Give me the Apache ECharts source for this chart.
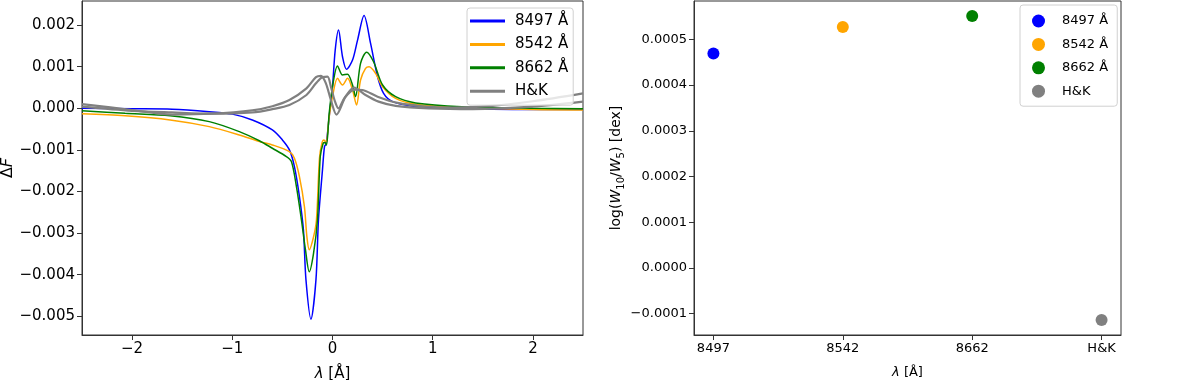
<!DOCTYPE html>
<html>
<head>
<meta charset="utf-8">
<script src="https://cdn.jsdelivr.net/npm/echarts@6.0.0/dist/echarts.min.js"></script>
<style>
  html, body { margin: 0; padding: 0; background: #fff; }
  #chart { width: 1200px; height: 380px; }
</style>
</head>
<body>
<div id="chart"></div>
<script>
// ── data: ΔF profiles, [λ offset (Å), ΔF] ──
const blue8497 = [[-2.5, 0.0], [-2.0, -0.00001], [-1.6, -0.00002], [-1.23, -0.00008], [-1.0, -0.00014], [-0.8, -0.00028],
  [-0.6, -0.00052], [-0.5, -0.00076], [-0.43, -0.001], [-0.38, -0.0014], [-0.33, -0.00212], [-0.29, -0.00293],
  [-0.265, -0.00412], [-0.215, -0.00507], [-0.165, -0.00412], [-0.14, -0.00268], [-0.1, -0.00148], [-0.08, -0.00092],
  [-0.065, -0.00086], [-0.05, -0.0006], [-0.033, -0.0002], [0.0, 0.00052], [0.027, 0.0014], [0.06, 0.00188],
  [0.1, 0.00124], [0.14, 0.00094], [0.2, 0.00116], [0.25, 0.00164], [0.315, 0.00223], [0.38, 0.00156], [0.45, 0.00076],
  [0.51, 0.00036], [0.6, 0.00016], [0.79, 0.000055], [1.13, 0.0], [1.6, -0.00002], [2.0, -0.00003], [2.5, -0.00003]];
const orange8542 = [[-2.5, -0.00013], [-2.07, -0.00018], [-1.62, -0.00028], [-1.23, -0.00044], [-0.93, -0.00064],
  [-0.73, -0.0008], [-0.6, -0.00088], [-0.43, -0.00104], [-0.38, -0.0012], [-0.33, -0.00164], [-0.28, -0.00237],
  [-0.255, -0.0031], [-0.232, -0.0034], [-0.19, -0.0031], [-0.16, -0.00268], [-0.13, -0.0012], [-0.105, -0.00083],
  [-0.085, -0.00076], [-0.065, -0.00082], [-0.033, -0.0002], [0.0, 0.00028], [0.05, 0.00072], [0.1, 0.00056],
  [0.15, 0.00072], [0.2, 0.00044], [0.24, 0.00008], [0.28, 0.00068], [0.33, 0.00096], [0.365, 0.001], [0.43, 0.00084],
  [0.5, 0.00052], [0.63, 0.00024], [0.83, 0.0001], [1.29, 0.00002], [2.0, -0.00003], [2.5, -0.00004]];
const green8662 = [[-2.5, -0.00006], [-2.07, -0.00012], [-1.62, -0.00018], [-1.23, -0.00032], [-0.93, -0.00056],
  [-0.73, -0.00078], [-0.6, -0.00096], [-0.46, -0.00116], [-0.41, -0.00128], [-0.36, -0.00188], [-0.31, -0.00268],
  [-0.27, -0.0034], [-0.232, -0.00393], [-0.19, -0.0035], [-0.15, -0.00268], [-0.122, -0.00116], [-0.093, -0.00084],
  [-0.075, -0.00082], [-0.06, -0.00088], [-0.033, -0.00012], [0.0, 0.00052], [0.05, 0.00102], [0.1, 0.0008],
  [0.15, 0.00082], [0.2, 0.00056], [0.23, 0.00028], [0.28, 0.00108], [0.34, 0.00135], [0.41, 0.00112], [0.5, 0.00056],
  [0.63, 0.00028], [0.83, 0.00013], [1.29, 0.00004], [2.0, 0.0], [2.5, -0.00001]];
const grayH = [[-2.5, 0.0001], [-2.0, -0.00004], [-1.6, -0.00015], [-1.2, -0.00013], [-0.8, -0.00005], [-0.6, 0.00005],
  [-0.43, 0.0002], [-0.26, 0.00048], [-0.165, 0.00075], [-0.115, 0.00078], [-0.066, 0.0006], [-0.016, 0.0002],
  [0.04, -0.00015], [0.13, 0.00028], [0.215, 0.0005], [0.33, 0.00032], [0.46, 0.00016], [0.63, 0.00006],
  [0.96, 0.0], [1.4, -0.00002], [2.0, 0.00004], [2.5, 0.00016]];
const grayK = [[-2.5, 0.00004], [-2.0, -0.00006], [-1.6, -0.0001], [-1.2, -0.00013], [-0.8, -0.0001], [-0.6, -0.00002],
  [-0.43, 0.00008], [-0.26, 0.00032], [-0.165, 0.0006], [-0.1, 0.00075], [-0.05, 0.00076], [-0.016, 0.00052],
  [0.02, 0.0002], [0.06, 0.0], [0.12, 0.00025], [0.22, 0.00045], [0.3, 0.00044], [0.45, 0.00028], [0.65, 0.00013],
  [0.9, 0.00005], [1.2, 0.00002], [1.6, 0.00006], [2.0, 0.00017], [2.5, 0.00036]];

// ── data: log(W10/W5) per line ──
const lineCats = ['8497', '8542', '8662', 'H&K'];
const lineNames = ['8497 Å', '8542 Å', '8662 Å', 'H&K'];
const logRatio = [0.000469, 0.000527, 0.000551, -0.000114];

// ticks
const leftXTicks = [-2, -1, 0, 1, 2];
const leftYTicks = [-0.005, -0.004, -0.003, -0.002, -0.001, 0, 0.001, 0.002];
const rightXTicks = [0, 1, 2, 3];
const rightYTicks = [-0.0001, 0, 0.0001, 0.0002, 0.0003, 0.0004, 0.0005];

const colors = ['#0000ff', '#ffa500', '#008000', '#808080'];
const FONT = 'DejaVu Sans';
const FS_L = 15, FS_R = 13;

const num = (v, d) => (v < -1e-12 ? '\u2212' : '') + Math.abs(v).toFixed(d);

function ax(fs, extra) {
    const a = Object.assign({
        type: 'value',
        splitLine: { show: false },
        axisLine: { show: true, onZero: false, lineStyle: { color: '#333', width: 1 } },
        nameTextStyle: { color: '#000', fontFamily: FONT, fontSize: fs },
    }, extra);
    a.axisLabel = Object.assign({ color: '#000', fontFamily: FONT, fontSize: fs, margin: 7 }, extra.axisLabel);
    a.axisTick = Object.assign({ show: true, inside: false, length: 5, lineStyle: { color: '#333' } }, extra.axisTick);
    return a;
}

function richFor(fs) {
    return {
        n: { fontFamily: FONT, fontSize: fs, color: '#000', lineHeight: 20 },
        i: { fontFamily: FONT, fontSize: fs, color: '#000', fontStyle: 'italic', lineHeight: 20 },
        s: { fontFamily: FONT, fontSize: Math.round(fs * 0.72), color: '#000', lineHeight: 10, verticalAlign: 'bottom' },
    };
}

const chart = echarts.init(document.getElementById('chart'), null, { renderer: 'canvas' });

function lineSeries(name, data, color, width) {
    return {
        name: name, type: 'line', data: data, xAxisIndex: 0, yAxisIndex: 0,
        symbol: 'none', smooth: 0.3,
        lineStyle: { color: color, width: width }, itemStyle: { color: color }, clip: true,
    };
}

const legendCommon = {
    orient: 'vertical',
    backgroundColor: 'rgba(255,255,255,0.8)',
    borderColor: '#d0d0d0', borderWidth: 1, borderRadius: 3,
    itemGap: 7.4,
    selectedMode: false,
};

chart.setOption({
    animation: false,
    grid: [
        { left: 82, top: 1, width: 501, height: 334, show: true, borderColor: '#333', borderWidth: 1, outerBoundsMode: 'none' },
        { left: 694, top: 1, width: 427, height: 334, show: true, borderColor: '#333', borderWidth: 1, outerBoundsMode: 'none' },
    ],
    legend: [
        Object.assign({}, legendCommon, {
            left: 467, top: 8, padding: [5, 5, 6, 3],
            icon: 'rect', itemWidth: 35, itemHeight: 3,
            data: lineNames,
            textStyle: { fontFamily: FONT, fontSize: FS_L, color: '#000', lineHeight: 16, padding: [0, 0, 0, 5] },
        }),
        Object.assign({}, legendCommon, {
            left: 1020, top: 5, padding: [8, 5, 7, 12],
            icon: 'circle', itemWidth: 13, itemHeight: 13,
            data: lineNames.map(n => n + ' '),
            textStyle: { fontFamily: FONT, fontSize: FS_R, color: '#000', lineHeight: 16, padding: [0, 0, 0, 12] },
        }),
    ],
    xAxis: [
        ax(FS_L, {
            gridIndex: 0, min: -2.5, max: 2.5,
            axisLabel: { customValues: leftXTicks, formatter: v => num(v, 0) },
            axisTick: { customValues: leftXTicks },
            name: '{i|λ}{n| [Å]}', nameLocation: 'middle', nameGap: 29,
            nameTextStyle: { rich: richFor(FS_L) },
        }),
        ax(FS_R, {
            gridIndex: 1, min: -0.15, max: 3.15,
            axisLabel: { customValues: rightXTicks, formatter: v => lineCats[Math.round(v)] },
            axisTick: { customValues: rightXTicks },
            name: '{i|λ}{n| [Å]}', nameLocation: 'middle', nameGap: 28,
            nameTextStyle: { rich: richFor(FS_R) },
        }),
    ],
    yAxis: [
        ax(FS_L, {
            gridIndex: 0, min: -0.00545, max: 0.00258,
            axisLabel: { customValues: leftYTicks, formatter: v => num(v, 3) },
            axisTick: { customValues: leftYTicks },
            name: '{n|Δ}{i|F}', nameLocation: 'middle', nameGap: 62, nameRotate: 90,
            nameTextStyle: { rich: richFor(16) },
        }),
        ax(FS_R, {
            gridIndex: 1, min: -0.0001466, max: 0.000584,
            axisLabel: { customValues: rightYTicks, formatter: v => num(v, 4) },
            axisTick: { customValues: rightYTicks },
            name: '{n|log(}{i|W}{s|10}{n|/}{i|W}{s|5}{n|) [dex]}', nameLocation: 'middle', nameGap: 63, nameRotate: 90,
            nameTextStyle: { rich: richFor(14) },
        }),
    ],
    series: [
        lineSeries(lineNames[0], blue8497, colors[0], 1.5),
        lineSeries(lineNames[1], orange8542, colors[1], 1.5),
        lineSeries(lineNames[2], green8662, colors[2], 1.5),
        lineSeries(lineNames[3], grayH, colors[3], 2.2),
        lineSeries(lineNames[3], grayK, colors[3], 2.2),
    ].concat(logRatio.map((v, i) => ({
        name: lineNames[i] + ' ', type: 'scatter', xAxisIndex: 1, yAxisIndex: 1,
        data: [[i, v]], symbol: 'circle', symbolSize: 12,
        itemStyle: { color: colors[i], opacity: 1 },
    }))),
});

window.addEventListener('resize', () => chart.resize());
</script>
</body>
</html>
